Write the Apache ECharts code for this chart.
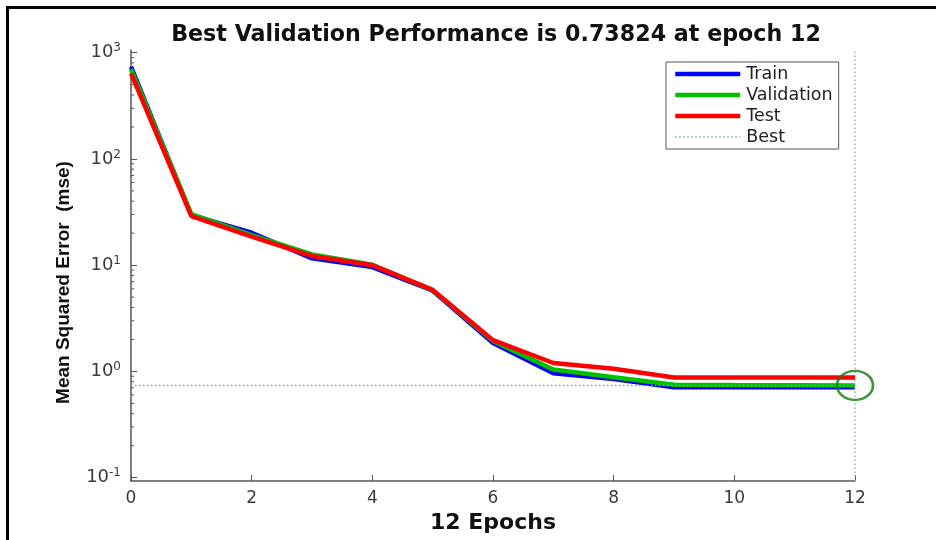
<!DOCTYPE html>
<html>
<head>
<meta charset="utf-8">
<script src="https://cdn.jsdelivr.net/npm/echarts@6/dist/echarts.min.js"></script>
<style>html,body{margin:0;padding:0;background:#fff}#c{width:936px;height:540px}</style>
</head>
<body>
<div id="c"></div>
<script>
// ---- data ----
const epochs = [0, 1, 2, 3, 4, 5, 6, 7, 8, 9, 10, 11, 12];
const trainMSE = [740, 29.6, 20.2, 11.6, 9.6, 5.75, 1.85, 0.96, 0.85, 0.71, 0.71, 0.71, 0.71];
const validationMSE = [700, 30.3, 19.2, 12.6, 10.1, 5.8, 1.93, 1.04, 0.88, 0.75, 0.745, 0.742, 0.73824];
const testMSE = [640, 29.0, 18.6, 12.2, 10.0, 5.85, 1.97, 1.2, 1.06, 0.875, 0.875, 0.875, 0.875];
const bestEpoch = 12;
const bestValue = 0.73824;
const seriesNames = ['Train', 'Validation', 'Test', 'Best'];
const xTicks = [0, 2, 4, 6, 8, 10, 12];
const titleText = 'Best Validation Performance is ' + bestValue + ' at epoch ' + bestEpoch;
const xName = epochs.length - 1 + ' Epochs';
const yName = 'Mean Squared Error  (mse)';

const pair = arr => epochs.map((e, i) => [e, arr[i]]);
const axisGrey = '#555555';
const labelColor = '#3a3a3a';

const chart = echarts.init(document.getElementById('c'), null, {renderer: 'canvas'});
const option = {
  animation: false,
  backgroundColor: '#ffffff',
  title: {
    text: titleText,
    left: 491,
    textAlign: 'center',
    top: 19,
    textStyle: {fontFamily: 'DejaVu Sans', fontWeight: 'bold', fontSize: 22.2, color: '#111'}
  },
  grid: {left: 131, right: 81, top: 50, bottom: 59, containLabel: false},
  legend: {
    data: seriesNames,
    orient: 'vertical',
    left: 666, top: 62,
    padding: [3, 6, 3, 7],
    itemGap: 3, itemWidth: 65, itemHeight: 14,
    backgroundColor: '#fff',
    borderColor: '#555', borderWidth: 1,
    itemStyle: {opacity: 0},
    lineStyle: {width: 'inherit'},
    textStyle: {fontFamily: 'DejaVu Sans', fontSize: 17.5, lineHeight: 18, color: '#222', padding: [0, 0, 0, 1]}
  },
  xAxis: {
    type: 'value', min: 0, max: 12, interval: 2,
    name: xName, nameLocation: 'middle', nameGap: 30,
    nameTextStyle: {fontFamily: 'DejaVu Sans', fontWeight: 'bold', fontSize: 22, color: '#111'},
    axisLine: {show: true, lineStyle: {color: axisGrey, width: 1.5}},
    axisTick: {show: true, inside: true, length: 6, lineStyle: {color: axisGrey}},
    axisLabel: {margin: 9, fontFamily: 'DejaVu Sans', fontSize: 17, color: labelColor,
      customValues: xTicks},
    splitLine: {show: false}
  },
  yAxis: {
    type: 'log', logBase: 10, min: 0.093, max: 1060,
    name: yName, nameLocation: 'middle', nameGap: 58, nameRotate: 90,
    nameTextStyle: {fontFamily: 'Liberation Sans', fontWeight: 'bold', fontSize: 19, color: '#111',
      padding: [0, 34, 0, 0]},
    axisLine: {show: true, lineStyle: {color: axisGrey, width: 1.5}},
    axisTick: {show: true, inside: true, length: 6, lineStyle: {color: axisGrey}},
    axisLabel: {
      margin: 10, showMinLabel: false, showMaxLabel: false,
      formatter: v => '{b|10}{s|' + Math.round(Math.log10(v)) + '}',
      rich: {
        b: {fontFamily: 'DejaVu Sans', fontSize: 18, color: labelColor},
        s: {fontFamily: 'DejaVu Sans', fontSize: 12, color: labelColor, verticalAlign: 'top', padding: [0, 0, 9, 0]}
      }
    },
    splitLine: {show: false}
  },
  series: [
    {name: 'Train', type: 'line', data: pair(trainMSE), symbol: 'none', z: 3,
      lineStyle: {color: '#0000ff', width: 4.5}, itemStyle: {color: '#0000ff'}},
    {name: 'Validation', type: 'line', data: pair(validationMSE), symbol: 'none', z: 4,
      lineStyle: {color: '#00c000', width: 4.5}, itemStyle: {color: '#00c000'}},
    {name: 'Test', type: 'line', data: pair(testMSE), symbol: 'none', z: 5,
      lineStyle: {color: '#ff0000', width: 4.5}, itemStyle: {color: '#ff0000'}},
    {name: 'Best', type: 'line', data: [[0, bestValue], [bestEpoch, bestValue]], symbol: 'none', z: 6,
      lineStyle: {color: '#6fa89a', width: 1.5, type: [1.5, 2.5]}, itemStyle: {color: '#6fa89a'},
      markLine: {silent: true, symbol: 'none', label: {show: false},
        lineStyle: {color: '#aaaaaa', width: 1.5, type: [1.5, 2.5]},
        data: [{xAxis: bestEpoch}]}},
    {name: 'bestMarker', type: 'scatter', data: [[bestEpoch, bestValue]], symbol: 'circle',
      symbolSize: [36, 29], z: 7,
      itemStyle: {color: 'rgba(0,0,0,0)', borderColor: '#117a11', borderWidth: 2.5}}
  ]
};
chart.setOption(option);

// minor log ticks and frame (decorations)
const g = [];
const x0 = chart.convertToPixel({xAxisIndex: 0}, 0);
for (let d = -1; d <= 2; d++) {
  for (let k = 2; k <= 9; k++) {
    const py = chart.convertToPixel({yAxisIndex: 0}, k * Math.pow(10, d));
    g.push({type: 'line', silent: true, shape: {x1: x0, y1: py, x2: x0 + 3, y2: py},
      style: {stroke: axisGrey, lineWidth: 1}});
  }
}
g.push({type: 'line', silent: true, shape: {x1: 6, y1: 7.5, x2: 936, y2: 7.5}, style: {stroke: '#000', lineWidth: 3}});
g.push({type: 'line', silent: true, shape: {x1: 7.5, y1: 6, x2: 7.5, y2: 540}, style: {stroke: '#000', lineWidth: 3}});
chart.setOption({graphic: g});
</script>
</body>
</html>
